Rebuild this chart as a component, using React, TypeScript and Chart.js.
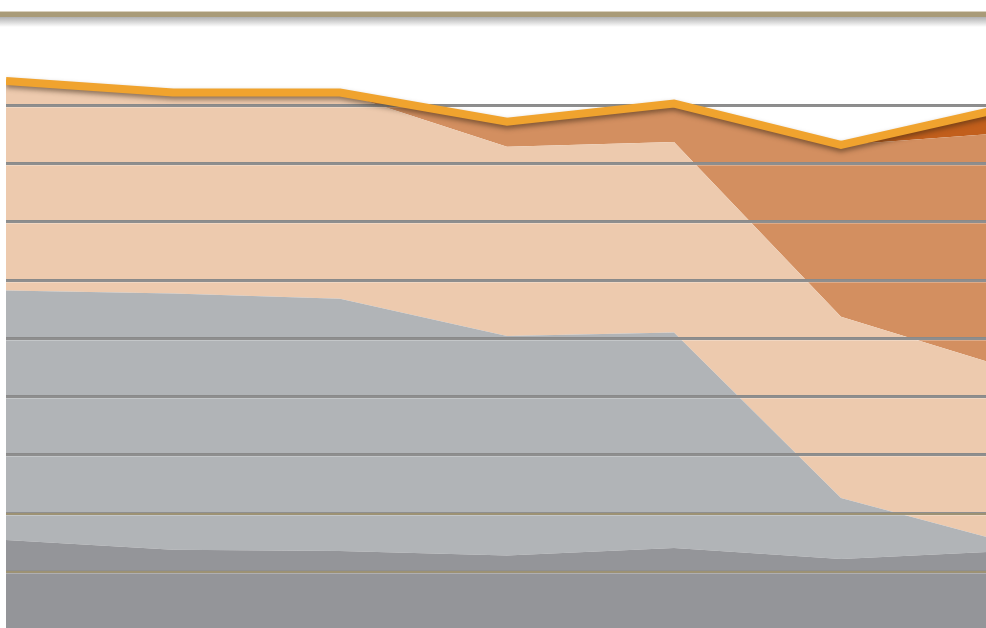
import React, { useEffect, useRef } from "react";
import { Chart, registerables } from "chart.js";

Chart.register(...registerables);

// Seven evenly spaced periods (labels are outside the cropped view)
const periods = ["P1", "P2", "P3", "P4", "P5", "P6", "P7"];

// Stacked layers, bottom to top (values in gridline units)
const darkGray = [1.53, 1.36, 1.34, 1.26, 1.39, 1.2, 1.34];
const lightGray = [4.28, 4.4, 4.33, 3.77, 3.7, 1.05, 0.14];
const peach = [3.6, 3.45, 3.54, 3.25, 3.27, 3.11, 3.0];
const midOrange = [0, 0, 0, 0.43, 0.66, 2.95, 4.04];
const rust = [0, 0, 0, 0, 0, 0, 0.44];

const gridValues = [1, 2, 3, 4, 5, 6, 7, 8, 9];

const layers = [
  { name: "Dark gray", data: darkGray, color: "#949599" },
  { name: "Light gray", data: lightGray, color: "#b1b4b7" },
  { name: "Peach", data: peach, color: "#edcaae" },
  { name: "Orange", data: midOrange, color: "#d38f60" },
  { name: "Rust", data: rust, color: "#c25f1c" },
];

const totals = periods.map((_, i) => layers.reduce((s, l) => s + l.data[i], 0));

const LINE_INDEX = layers.length;

const overlayPlugin = {
  id: "overlay",
  beforeDatasetDraw(chart: any, args: any) {
    if (args.index !== LINE_INDEX) return;
    const { ctx, chartArea } = chart;
    const yScale = chart.scales.y;
    ctx.save();
    gridValues.forEach((v) => {
      const y = Math.round(yScale.getPixelForValue(v));
      const olive = v <= 2;
      ctx.fillStyle = olive ? "#8f8f8f" : "#8a8a8a";
      ctx.fillRect(chartArea.left, y - 1, chartArea.right - chartArea.left, 1);
      ctx.fillStyle = olive ? "#9d9274" : "#8e8e8e";
      ctx.fillRect(chartArea.left, y, chartArea.right - chartArea.left, 2);
      ctx.fillStyle = "rgba(255,255,255,0.25)";
      ctx.fillRect(chartArea.left, y + 2, chartArea.right - chartArea.left, 1);
    });
    ctx.restore();
    ctx.save();
    ctx.shadowColor = "rgba(60,40,20,0.55)";
    ctx.shadowBlur = 5;
    ctx.shadowOffsetY = 3;
  },
  afterDatasetDraw(chart: any, args: any) {
    if (args.index !== LINE_INDEX) return;
    chart.ctx.restore();
  },
};

const CANVAS_W = 1002;
const CANVAS_H = 588;
const UNIT_PX = 58.25;

export default function App() {
  const canvasRef = useRef<HTMLCanvasElement | null>(null);

  useEffect(() => {
    const canvas = canvasRef.current;
    if (!canvas) return;
    const datasets: any[] = layers.map((l, i) => ({
      label: l.name,
      data: l.data,
      backgroundColor: l.color,
      borderWidth: 0,
      borderColor: l.color,
      pointRadius: 0,
      fill: i === 0 ? "origin" : "-1",
      stack: "areas",
      tension: 0,
    }));
    datasets.push({
      label: "Total",
      data: totals,
      borderColor: "#f0a32e",
      borderWidth: 8,
      borderJoinStyle: "miter",
      borderCapStyle: "butt",
      pointRadius: 0,
      fill: false,
      stack: "total",
      tension: 0,
      order: -1,
    });
    const chart = new Chart(canvas, {
      type: "line",
      data: { labels: periods, datasets },
      options: {
        animation: false,
        responsive: false,
        devicePixelRatio: 1,
        layout: { padding: 0 },
        plugins: {
          legend: { display: false },
          tooltip: { enabled: false },
        },
        scales: {
          x: { type: "category", display: false, offset: false },
          y: {
            display: false,
            stacked: true,
            min: 0,
            max: CANVAS_H / UNIT_PX,
          },
        },
      },
      plugins: [overlayPlugin],
    });
    return () => chart.destroy();
  }, []);

  return (
    <div
      style={{
        position: "fixed",
        left: 0,
        top: 0,
        width: 986,
        height: 628,
        overflow: "hidden",
        background: "#ffffff",
      }}
    >
      <div
        style={{
          position: "absolute",
          left: 0,
          top: 11,
          width: 986,
          height: 1,
          background: "#d9d0bd",
        }}
      />
      <div
        style={{
          position: "absolute",
          left: 0,
          top: 12,
          width: 986,
          height: 5,
          background: "#a99b78",
        }}
      />
      <div
        style={{
          position: "absolute",
          left: 0,
          top: 17,
          width: 986,
          height: 10,
          background: "linear-gradient(to bottom, rgba(150,150,150,0.75), rgba(255,255,255,0))",
        }}
      />
      <canvas
        ref={canvasRef}
        width={CANVAS_W}
        height={CANVAS_H}
        style={{
          position: "absolute",
          left: 6,
          top: 41,
          width: CANVAS_W,
          height: CANVAS_H,
        }}
      />
    </div>
  );
}
